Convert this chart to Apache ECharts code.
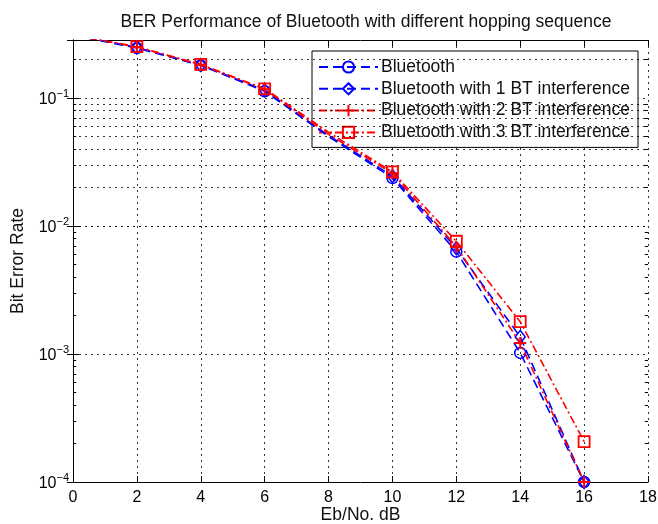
<!DOCTYPE html>
<html>
<head>
<meta charset="utf-8">
<script src="https://cdn.jsdelivr.net/npm/echarts@6/dist/echarts.min.js"></script>
<style>
html,body{margin:0;padding:0;background:#fff;}
#chart{width:658px;height:524px;}
</style>
</head>
<body>
<div id="chart"></div>
<script>
// ---- data ----
const snr = [0, 2, 4, 6, 8, 10, 12, 14, 16];
const berBluetooth = [0.31, 0.246, 0.180, 0.113, 0.050, 0.0237, 0.0063, 0.00102, 0.0001];
const berBT1 = [0.31, 0.248, 0.181, 0.115, 0.051, 0.0245, 0.0067, 0.00136, 0.0001];
const berBT2 = [0.31, 0.250, 0.182, 0.117, 0.052, 0.0258, 0.0069, 0.00122, 0.0001];
const berBT3 = [0.31, 0.252, 0.183, 0.118, 0.054, 0.0265, 0.0076, 0.00179, 0.000207];
const seriesNames = ['Bluetooth', 'Bluetooth with 1 BT interference', 'Bluetooth with 2 BT interference', 'Bluetooth with 3 BT interference'];
const xTicks = [0, 2, 4, 6, 8, 10, 12, 14, 16, 18];
const yMin = 1e-4, yMax = 0.284;
const noMarkerX = [0, 8];

const chart = echarts.init(document.getElementById('chart'));
const BLUE = '#0000ff', RED = '#ff0000';
const FONT = 'Liberation Sans, Arial, sans-serif';

function pts(arr) {
  return snr.map((x, i) => noMarkerX.includes(x) ? {value: [x, arr[i]], symbol: 'none'} : {value: [x, arr[i]]});
}

// minor grid positions (decoration)
const minorVals = [];
for (let n = -4; n <= -1; n++) {
  for (let k = 2; k <= 9; k++) {
    const v = k * Math.pow(10, n);
    if (v < yMax) minorVals.push(+v.toPrecision(3));
  }
}
const gridLines = minorVals.map(v => ({yAxis: v}));
const minorTickSegs = [];
minorVals.forEach(v => {
  minorTickSegs.push([{coord: [0, v]}, {coord: [0.1, v]}]);
  minorTickSegs.push([{coord: [17.9, v]}, {coord: [18, v]}]);
});

function labelFmt(v) {
  const l = Math.log10(v);
  const e = Math.round(l);
  if (Math.abs(l - e) > 1e-6) return '';
  return '{b|10}{e|' + (e < 0 ? '\u2212' + (-e) : e) + '}';
}

const dotted = {color: '#000', width: 1, type: [2, 4], opacity: 0.8};
const richLbl = {
  b: {fontSize: 16, fontFamily: FONT, color: '#000', verticalAlign: 'bottom'},
  e: {fontSize: 11, fontFamily: FONT, color: '#000', verticalAlign: 'bottom', padding: [0, 0, 8, 0]}
};

const option = {
  animation: false,
  backgroundColor: '#fff',
  title: {
    text: 'BER Performance of Bluetooth with different hopping sequence',
    left: 361, top: 8, textAlign: 'center',
    textStyle: {fontSize: 17.5, fontWeight: 'normal', fontFamily: FONT, color: '#111'}
  },
  grid: {left: 73, right: 10, top: 40, bottom: 42, containLabel: false, outerBoundsMode: 'none'},
  legend: {
    data: seriesNames,
    orient: 'vertical',
    left: 312, top: 51,
    backgroundColor: '#fff',
    borderColor: '#000', borderWidth: 1,
    padding: [7, 8, 6, 6],
    itemWidth: 59, itemHeight: 14, itemGap: 3.8,
    textStyle: {fontSize: 17.5, fontFamily: FONT, color: '#111', padding: [0, 0, 0, -2]}
  },
  xAxis: [{
    type: 'value', min: 0, max: 18, interval: 2,
    name: 'Eb/No. dB', nameLocation: 'middle', nameGap: 24, nameMoveOverlap: false,
    nameTextStyle: {fontSize: 17.5, fontFamily: FONT, color: '#111'},
    axisLine: {show: true, lineStyle: {color: '#000', width: 1}},
    axisTick: {show: true, inside: true, length: 6, lineStyle: {color: '#000'}},
    axisLabel: {fontSize: 16, fontFamily: FONT, color: '#000', margin: 8},
    splitLine: {show: true, lineStyle: dotted}
  }, {
    type: 'value', min: 0, max: 18, interval: 2, position: 'top',
    axisLine: {show: true, lineStyle: {color: '#000', width: 1}},
    axisTick: {show: true, inside: true, length: 6, lineStyle: {color: '#000'}},
    axisLabel: {show: false},
    splitLine: {show: false}
  }],
  yAxis: [{
    type: 'log', logBase: 10, min: yMin, max: yMax,
    name: 'Bit Error Rate', nameLocation: 'middle', nameGap: 46, nameRotate: 90, nameMoveOverlap: false,
    nameTextStyle: {fontSize: 17.5, fontFamily: FONT, color: '#111'},
    axisLine: {show: true, lineStyle: {color: '#000', width: 1}},
    axisTick: {show: true, inside: true, length: 6, lineStyle: {color: '#000'}},
    axisLabel: {formatter: labelFmt, rich: richLbl, margin: 4},
    splitLine: {show: true, lineStyle: dotted}
  }, {
    type: 'log', logBase: 10, min: yMin, max: yMax, position: 'right',
    axisLine: {show: true, lineStyle: {color: '#000', width: 1}},
    axisTick: {show: true, inside: true, length: 6, lineStyle: {color: '#000'}},
    axisLabel: {show: false},
    splitLine: {show: false}
  }],
  series: [
    {
      name: 'grid', type: 'line', data: [], z: 1, silent: true,
      markLine: {
        silent: true, symbol: 'none', animation: false,
        label: {show: false}, emphasis: {disabled: true},
        lineStyle: dotted,
        data: gridLines
      }
    },
    {
      name: 'ticks', type: 'line', data: [], z: 1, silent: true,
      markLine: {
        silent: true, symbol: 'none', animation: false,
        label: {show: false}, emphasis: {disabled: true},
        lineStyle: {color: '#000', width: 1, type: 'solid', opacity: 1},
        data: minorTickSegs
      }
    },
    {
      name: seriesNames[0], type: 'line', data: pts(berBluetooth), z: 5,
      symbol: 'circle', symbolSize: 11,
      itemStyle: {color: 'rgba(0,0,0,0)', borderColor: BLUE, borderWidth: 1.5},
      lineStyle: {color: BLUE, width: 1.6, type: [9, 5]}
    },
    {
      name: seriesNames[1], type: 'line', data: pts(berBT1), z: 5,
      symbol: 'diamond', symbolSize: [10, 13],
      itemStyle: {color: 'rgba(0,0,0,0)', borderColor: BLUE, borderWidth: 1.5},
      lineStyle: {color: BLUE, width: 1.6, type: [9, 5]}
    },
    {
      name: seriesNames[2], type: 'line', data: pts(berBT2), z: 6,
      symbol: 'path://M0,5 L10,5 M5,0 L5,10', symbolSize: 12,
      itemStyle: {color: 'rgba(0,0,0,0)', borderColor: RED, borderWidth: 2},
      lineStyle: {color: RED, width: 1.6, type: [8, 3, 2, 3]}
    },
    {
      name: seriesNames[3], type: 'line', data: pts(berBT3), z: 6,
      symbol: 'rect', symbolSize: 11,
      itemStyle: {color: 'rgba(0,0,0,0)', borderColor: RED, borderWidth: 1.8},
      lineStyle: {color: RED, width: 1.6, type: [8, 3, 2, 3]}
    }
  ]
};
chart.setOption(option);
</script>
</body>
</html>
